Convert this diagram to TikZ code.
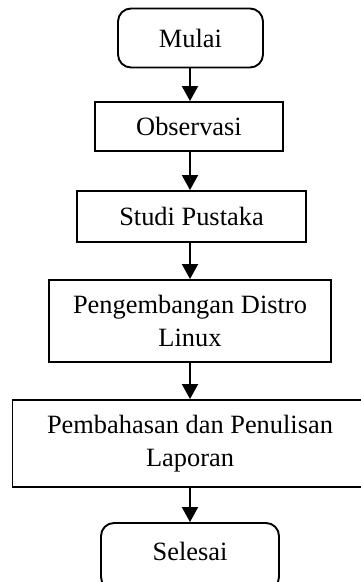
\documentclass[tikz,border=0pt]{standalone}
\usepackage{fontspec}
\setmainfont{Liberation Serif}
\usetikzlibrary{arrows.meta}

\tikzset{
  box/.style={draw, line width=1.9pt, inner sep=0pt, align=center,
    font=\fontsize{26.4}{33}\selectfont},
  terminal/.style={box, rounded corners=13pt},
  flow/.style={line width=1.9pt, -{Triangle[length=15pt,width=16pt]}}
}

\begin{document}
\begin{tikzpicture}[x=1pt, y=-1pt]
  \useasboundingbox (0,0) rectangle (360,582);

  \node[terminal, minimum width=145pt, minimum height=59pt] (start) at (190.5,38) {Mulai};
  \node[box, minimum width=188pt, minimum height=49pt] (obs) at (189,126.5) {Observasi};
  \node[box, minimum width=229pt, minimum height=51pt] (lit) at (191.5,216.5) {Studi Pustaka};
  \node[box, minimum width=282pt, minimum height=82pt] (dev) at (190,321) {Pengembangan Distro\\Linux};
  \node[box, minimum width=355pt, minimum height=87pt] (rep) at (190,443.5) {Pembahasan dan Penulisan\\Laporan};
  \node[terminal, minimum width=178pt, minimum height=67pt] (end) at (190,556.5)
    {\raisebox{5pt}[\height][\depth]{Selesai}};

  \draw[flow] (start.south -| 190,0) -- (obs.north -| 190,0);
  \draw[flow] (obs.south -| 190,0) -- (lit.north -| 190,0);
  \draw[flow] (lit.south -| 190,0) -- (dev.north -| 190,0);
  \draw[flow] (dev.south -| 190,0) -- (rep.north -| 190,0);
  \draw[flow] (rep.south -| 190,0) -- (end.north -| 190,0);
\end{tikzpicture}
\end{document}
